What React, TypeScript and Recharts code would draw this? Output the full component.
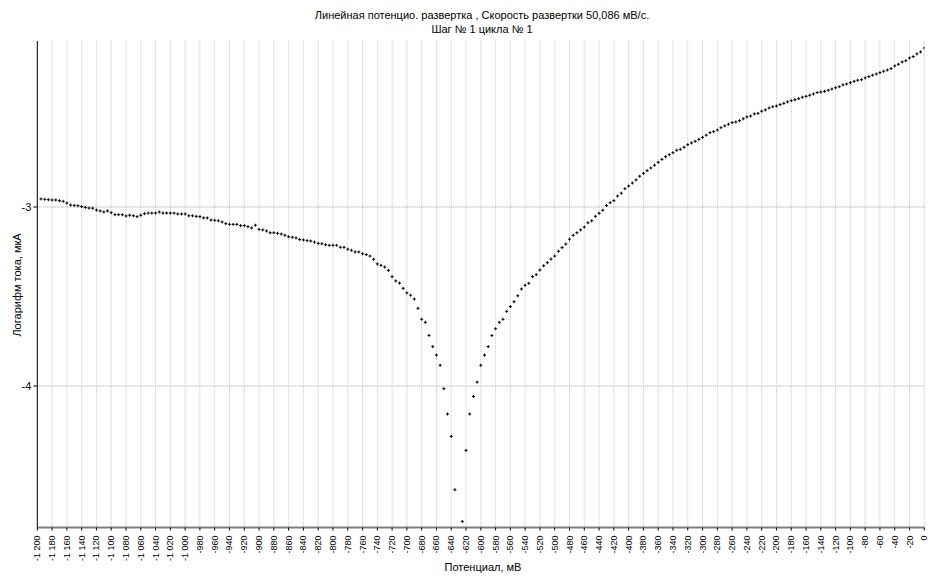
import React from "react";
import { ScatterChart, Scatter, XAxis, YAxis, CartesianGrid, ReferenceLine } from "recharts";

const TITLE_1 = "Линейная потенцио. развертка , Скорость развертки 50,086 мВ/с.";
const TITLE_2 = "Шаг № 1 цикла № 1";
const X_LABEL = "Потенциал, мВ";
const Y_LABEL = "Логарифм тока, мкА";

const potentials: number[] = [
  -1195, -1190, -1185, -1180, -1175, -1170, -1165, -1160, -1155, -1150, -1145, -1140, -1135, -1130, -1125, -1120, -1115, -1110, -1105, -1100,
  -1095, -1090, -1085, -1080, -1075, -1070, -1065, -1060, -1055, -1050, -1045, -1040, -1035, -1030, -1025, -1020, -1015, -1010, -1005, -1000,
  -995, -990, -985, -980, -975, -970, -965, -960, -955, -950, -945, -940, -935, -930, -925, -920, -915, -910, -905, -900,
  -895, -890, -885, -880, -875, -870, -865, -860, -855, -850, -845, -840, -835, -830, -825, -820, -815, -810, -805, -800,
  -795, -790, -785, -780, -775, -770, -765, -760, -755, -750, -745, -740, -735, -730, -725, -720, -715, -710, -705, -700,
  -695, -690, -685, -680, -675, -670, -665, -660, -655, -650, -645, -640, -635, -630, -625, -620, -615, -610, -605, -600,
  -595, -590, -585, -580, -575, -570, -565, -560, -555, -550, -545, -540, -535, -530, -525, -520, -515, -510, -505, -500,
  -495, -490, -485, -480, -475, -470, -465, -460, -455, -450, -445, -440, -435, -430, -425, -420, -415, -410, -405, -400,
  -395, -390, -385, -380, -375, -370, -365, -360, -355, -350, -345, -340, -335, -330, -325, -320, -315, -310, -305, -300,
  -295, -290, -285, -280, -275, -270, -265, -260, -255, -250, -245, -240, -235, -230, -225, -220, -215, -210, -205, -200,
  -195, -190, -185, -180, -175, -170, -165, -160, -155, -150, -145, -140, -135, -130, -125, -120, -115, -110, -105, -100,
  -95, -90, -85, -80, -75, -70, -65, -60, -55, -50, -45, -40, -35, -30, -25, -20, -15, -10, -5, 0,
];

const logCurrent: (number | null)[] = [
  -2.955, -2.957, -2.959, -2.961, -2.961, -2.965, -2.968, -2.978, -2.989, -2.991, -2.993, -2.998, -3.002, -3.006, -3.007, -3.017, -3.022, -3.028, -3.022, -3.032,
  -3.043, -3.043, -3.043, -3.050, -3.046, -3.049, -3.054, -3.046, -3.037, -3.034, -3.034, -3.034, -3.028, -3.034, -3.034, -3.034, -3.034, -3.039, -3.039, -3.039,
  -3.049, -3.049, -3.052, -3.054, -3.061, -3.061, -3.073, -3.074, -3.077, -3.084, -3.093, -3.097, -3.097, -3.097, -3.104, -3.104, -3.110, -3.117, -3.102, -3.125,
  -3.128, -3.134, -3.144, -3.144, -3.147, -3.151, -3.158, -3.166, -3.169, -3.173, -3.182, -3.184, -3.188, -3.190, -3.196, -3.203, -3.205, -3.211, -3.214, -3.214,
  -3.214, -3.225, -3.225, -3.236, -3.242, -3.251, -3.251, -3.261, -3.266, -3.274, -3.292, -3.318, -3.326, -3.335, -3.354, -3.389, -3.413, -3.425, -3.454, -3.480,
  -3.493, -3.514, -3.566, -3.627, -3.644, -3.717, -3.780, -3.827, -3.884, -4.015, -4.156, -4.281, -4.579, null, -4.756, -4.359, -4.156, -4.058, -3.978, -3.884,
  -3.827, -3.780, -3.718, -3.680, -3.644, -3.627, -3.583, -3.556, -3.529, -3.496, -3.458, -3.437, -3.426, -3.389, -3.378, -3.352, -3.328, -3.311, -3.291, -3.274,
  -3.247, -3.227, -3.207, -3.180, -3.158, -3.144, -3.128, -3.112, -3.088, -3.077, -3.052, -3.035, -3.018, -2.992, -2.976, -2.965, -2.939, -2.923, -2.898, -2.883,
  -2.866, -2.849, -2.828, -2.812, -2.797, -2.782, -2.767, -2.750, -2.734, -2.719, -2.708, -2.697, -2.683, -2.678, -2.666, -2.652, -2.642, -2.633, -2.622, -2.611,
  -2.599, -2.585, -2.579, -2.570, -2.557, -2.547, -2.538, -2.529, -2.525, -2.518, -2.507, -2.497, -2.492, -2.480, -2.477, -2.465, -2.458, -2.447, -2.440, -2.436,
  -2.428, -2.421, -2.413, -2.406, -2.401, -2.395, -2.387, -2.382, -2.376, -2.369, -2.361, -2.358, -2.354, -2.348, -2.341, -2.334, -2.328, -2.318, -2.313, -2.306,
  -2.298, -2.292, -2.289, -2.279, -2.272, -2.264, -2.257, -2.250, -2.242, -2.235, -2.227, -2.212, -2.203, -2.190, -2.183, -2.168, -2.160, -2.145, -2.134, -2.112,
];

const xTicks: number[] = [
  -1200, -1180, -1160, -1140, -1120, -1100, -1080, -1060, -1040, -1020, -1000,
  -980, -960, -940, -920, -900, -880, -860, -840, -820, -800,
  -780, -760, -740, -720, -700, -680, -660, -640, -620, -600,
  -580, -560, -540, -520, -500, -480, -460, -440, -420, -400,
  -380, -360, -340, -320, -300, -280, -260, -240, -220, -200,
  -180, -160, -140, -120, -100, -80, -60, -40, -20, 0,
];
const yTicks: number[] = [-4, -3];

const data = potentials
  .map((p, i) => ({ x: p, y: logCurrent[i] }))
  .filter((d) => d.y !== null);

const FONT = '"Liberation Sans", Arial, sans-serif';

const fmtX = (v: number) => {
  if (v <= -1000) {
    const rest = String(Math.abs(v) % 1000).padStart(3, "0");
    return `-1 ${rest}`;
  }
  return String(v);
};

const XTick = (props: any) => {
  const { x, y, payload } = props;
  return (
    <g transform={`translate(${x},${y})`}>
      <text
        transform="rotate(-90)"
        x={-3}
        y={3}
        textAnchor="end"
        fontSize={9}
        fontFamily={FONT}
        fill="#000"
      >
        {fmtX(payload.value)}
      </text>
    </g>
  );
};

const Cross = (props: any) => {
  const { cx, cy } = props;
  if (cx == null || cy == null) return null;
  return (
    <g>
      <rect x={cx - 1.5} y={cy - 0.5} width={3} height={1} fill="#000" />
      <rect x={cx - 0.5} y={cy - 1.5} width={1} height={3} fill="#000" />
    </g>
  );
};

export default function App() {
  return (
    <div
      style={{
        position: "absolute",
        left: 0,
        top: 0,
        width: 928,
        height: 577,
        background: "#fff",
        fontFamily: FONT,
      }}
    >
      <ScatterChart
        width={928}
        height={577}
        margin={{ top: 41, right: 3.7, bottom: 9.5, left: 7.3 }}
      >
        <CartesianGrid
          horizontal={false}
          stroke="#c8c8c8"
          strokeDasharray="1 1"
        />
        <XAxis
          type="number"
          dataKey="x"
          domain={[-1200, 0]}
          ticks={xTicks}
          interval={0}
          height={40}
          tick={<XTick />}
          tickSize={3}
          axisLine={{ stroke: "#808080", strokeWidth: 2 }}
          tickLine={{ stroke: "#000" }}
          allowDataOverflow
        />
        <YAxis
          type="number"
          dataKey="y"
          domain={[-4.79, -2.073]}
          ticks={yTicks}
          width={30}
          tickSize={4}
          axisLine={{ stroke: "#000" }}
          tickLine={{ stroke: "#000" }}
          tick={{ fontSize: 11, fontFamily: FONT, fill: "#000" }}
          allowDataOverflow
        />
        {yTicks.map((t) => (
          <ReferenceLine
            key={t}
            y={t}
            stroke="#a0a0a0"
            strokeDasharray="1 1"
            ifOverflow="hidden"
          />
        ))}
        <Scatter data={data} shape={<Cross />} isAnimationActive={false} />
      </ScatterChart>
      <div
        style={{
          position: "absolute",
          left: 0,
          width: 964,
          top: 8,
          textAlign: "center",
          fontSize: 11,
          lineHeight: "14px",
          color: "#000",
        }}
      >
        <div>{TITLE_1}</div>
        <div>{TITLE_2}</div>
      </div>
      <div
        style={{
          position: "absolute",
          left: 0,
          width: 966,
          top: 560,
          textAlign: "center",
          fontSize: 11,
          lineHeight: "14px",
          color: "#000",
        }}
      >
        {X_LABEL}
      </div>
      <div
        style={{
          position: "absolute",
          left: 17,
          top: 285,
          transform: "translate(-50%, -50%) rotate(-90deg)",
          whiteSpace: "nowrap",
          fontSize: 11,
          lineHeight: "14px",
          color: "#000",
        }}
      >
        {Y_LABEL}
      </div>
    </div>
  );
}
